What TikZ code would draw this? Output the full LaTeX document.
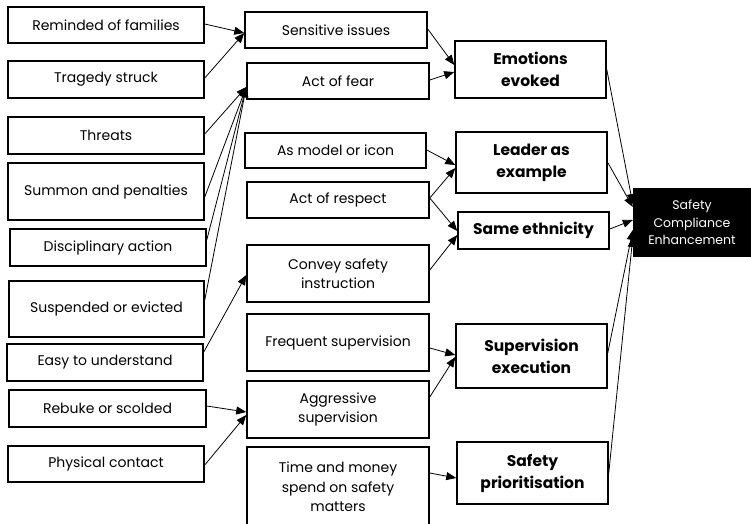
\documentclass[tikz,border=0pt]{standalone}
\usepackage{fontspec}
\setmainfont{Poppins}
\usetikzlibrary{arrows.meta}
\begin{document}
\begin{tikzpicture}[x=1pt,y=-1pt,
  box/.style={draw, line width=1.5pt, align=center, inner sep=2pt, font=\fontsize{14}{19.5}\selectfont},
  bbox/.style={box, font=\fontsize{15.5}{22}\selectfont\bfseries},
  arr/.style={line width=0.8pt, -{Triangle[length=10pt,width=8pt]}},
]
\useasboundingbox (0,0) rectangle (751,523);
% left column
\node[box, minimum width=196pt, minimum height=36pt] (L1) at (106,25) {Reminded of families};
\node[box, minimum width=196pt, minimum height=37pt] (L2) at (106,79.5) {Tragedy struck};
\node[box, minimum width=196pt, minimum height=37pt] (L3) at (106,135.5) {Threats};
\node[box, minimum width=196pt, minimum height=57pt] (L4) at (106,191.5) {Summon and penalties};
\node[box, minimum width=196pt, minimum height=37pt] (L5) at (108,247.5) {Disciplinary action};
\node[box, minimum width=195pt, minimum height=56pt] (L6) at (106.5,309) {Suspended or evicted};
\node[box, minimum width=196pt, minimum height=37pt] (L7) at (105,362.5) {Easy to understand};
\node[box, minimum width=197pt, minimum height=37pt] (L8) at (107.5,408.5) {Rebuke or scolded};
\node[box, minimum width=196pt, minimum height=36pt] (L9) at (106,464) {Physical contact};
% middle column
\node[box, minimum width=182pt, minimum height=36pt] (M1) at (336,30) {Sensitive issues};
\node[box, minimum width=182pt, minimum height=36pt] (M2) at (338,81) {Act of fear};
\node[box, minimum width=181pt, minimum height=35pt] (M3) at (335.5,150.5) {As model or icon};
\node[box, minimum width=182pt, minimum height=36pt] (M4) at (338,200) {Act of respect};
\node[box, minimum width=182pt, minimum height=57pt] (M5) at (338,273.5) {Convey safety\\instruction};
\node[box, minimum width=182pt, minimum height=57pt] (M6) at (338,342.5) {Frequent supervision};
\node[box, minimum width=182pt, minimum height=57pt] (M7) at (338,409.5) {Aggressive\\supervision};
\node[box, minimum width=182pt, minimum height=80pt] (M8) at (338,487) {Time and money\\spend on safety\\matters};
% right column
\node[bbox, minimum width=151pt, minimum height=57pt] (R1) at (530.5,69.5) {Emotions\\evoked};
\node[bbox, minimum width=151pt, minimum height=61pt] (R2) at (531.5,162.5) {Leader as\\example};
\node[bbox, minimum width=151pt, minimum height=37pt] (R3) at (533.5,230.5) {Same ethnicity};
\node[bbox, minimum width=151pt, minimum height=64pt] (R4) at (531.5,356) {Supervision\\execution};
\node[bbox, minimum width=151pt, minimum height=62pt] (R5) at (532.5,473) {Safety\\prioritisation};
% outcome
\node[fill=black, text=white, minimum width=118pt, minimum height=69pt, align=center,
      font=\fontsize{12.5}{17.5}\selectfont] (B) at (692,222.5) {Safety\\Compliance\\Enhancement};
% left -> middle
\draw[arr] ([yshift=1pt]L1.east) -- ([yshift=-3pt]M1.west);
\draw[arr] ([yshift=1.5pt]L2.east) -- ([yshift=-3pt]M1.west);
\draw[arr] ([yshift=1.5pt]L3.east) -- ([yshift=-6pt]M2.west);
\draw[arr] ([yshift=-5.5pt]L4.east) -- ([yshift=-6pt]M2.west);
\draw[arr] ([yshift=7.5pt]L5.east) -- ([yshift=-6pt]M2.west);
\draw[arr] ([yshift=9pt]L6.east) -- ([yshift=-6pt]M2.west);
\draw[arr] ([yshift=10.5pt]L7.east) -- ([yshift=-1.5pt]M5.west);
\draw[arr] ([yshift=2.5pt]L8.east) -- ([yshift=-2.5pt]M7.west);
\draw[arr] ([yshift=-1pt]L9.east) -- ([yshift=-5.5pt]M7.west);
% middle -> right
\draw[arr] ([yshift=1pt]M1.east) -- ([yshift=4.5pt]R1.west);
\draw[arr] ([yshift=1pt]M2.east) -- ([yshift=-2.5pt]R1.west);
\draw[arr] ([yshift=0.5pt]M3.east) -- ([yshift=-2.5pt]R2.west);
\draw[arr] ([yshift=2pt]M4.east) -- ([yshift=-5.5pt]R2.west);
\draw[arr] ([yshift=2pt]M4.east) -- ([yshift=-0.5pt]R3.west);
\draw[arr] ([yshift=3.5pt]M5.east) -- ([yshift=-4.5pt]R3.west);
\draw[arr] ([yshift=-5.5pt]M6.east) -- ([yshift=1pt]R4.west);
\draw[arr] ([yshift=12.5pt]M7.east) -- ([yshift=-1pt]R4.west);
\draw[arr] ([yshift=14pt]M8.east) -- ([yshift=-5pt]R5.west);
% right -> outcome
\draw[arr] (R1.east) -- ([yshift=18.5pt]B.west);
\draw[arr] (R2.east) -- ([yshift=15.5pt]B.west);
\draw[arr] ([yshift=1.5pt]R3.east) -- ([yshift=2.5pt]B.west);
\draw[arr] ([yshift=3pt]R4.east) -- ([yshift=-7.5pt]B.west);
\draw[arr] (R5.east) -- ([yshift=-14.5pt]B.west);
\end{tikzpicture}
\end{document}
